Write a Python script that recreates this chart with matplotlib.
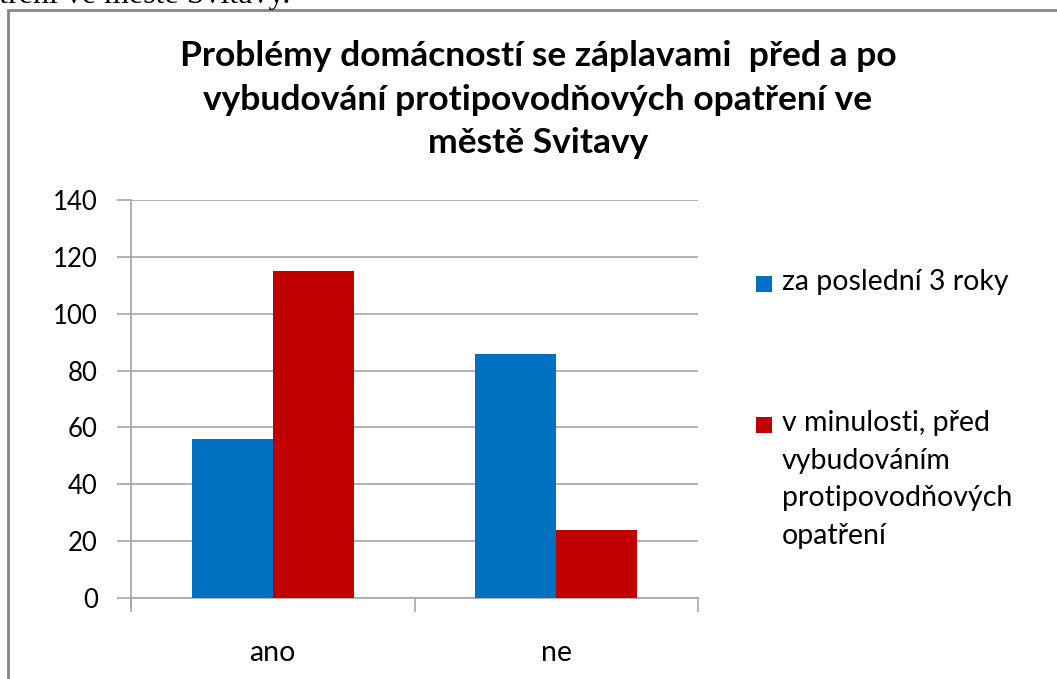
import matplotlib
matplotlib.use("Agg")
import matplotlib.pyplot as plt
from matplotlib.patches import Rectangle
import numpy as np

categories = ["ano", "ne"]
series_names = ["za poslední 3 roky",
                "v minulosti, před\nvybudováním\nprotipovodňových\nopatření"]
series_values = [[56, 86], [115, 24]]
series_colors = ["#0070C0", "#C00000"]
yticks = [0, 20, 40, 60, 80, 100, 120, 140]
title = "Problémy domácností se záplavami  před a po\nvybudování protipovodňových opatření ve\nměstě Svitavy"

FONT = "Lato"
W, H = 1057, 679
fig = plt.figure(figsize=(W / 100, H / 100), dpi=100)
fig.patch.set_facecolor("white")

def fx(px):
    return px / W

def fy(py):
    return 1 - py / H

# Outer chart frame (extends beyond the canvas on right and bottom)
fig.patches.append(Rectangle((fx(8), fy(700)), fx(1100) - fx(8), fy(10) - fy(700),
                             transform=fig.transFigure, fill=False,
                             edgecolor="#878787", linewidth=2))

# Cropped text from the surrounding document
fig.text(fx(290), fy(3.5), "opatření ve městě Svitavy.", ha="right", va="baseline",
         fontsize=23, family="Liberation Serif", color="black")

ax = fig.add_axes([fx(131), fy(598), fx(698) - fx(131), fy(200) - fy(598)])
n = len(series_values)
width = 1 / (n + 1.5)
x = np.arange(len(categories))
for i, (vals, col) in enumerate(zip(series_values, series_colors)):
    ax.bar(x + (i - (n - 1) / 2) * width, vals, width, color=col, zorder=3,
           linewidth=0)

ax.set_xlim(-0.5, len(categories) - 0.5)
ax.set_ylim(0, 140)
ax.set_yticks(yticks)
ax.set_yticklabels([str(v) for v in yticks], fontsize=18.5, family=FONT)
ax.yaxis.grid(True, color="#A6A6A6", linewidth=1.2, zorder=0)
ax.set_axisbelow(True)
for s in ["top", "right"]:
    ax.spines[s].set_visible(False)
for s in ["left", "bottom"]:
    ax.spines[s].set_color("#A6A6A6")
    ax.spines[s].set_linewidth(1.2)
ax.spines["left"].set_bounds(-140 * 10 / 398, 140)
ax.tick_params(axis="y", length=10, width=1.2, color="#A6A6A6", pad=14)
ax.set_xticks(np.arange(len(categories) + 1) - 0.5, minor=False)
ax.set_xticklabels([])
ax.set_xticks(x, minor=True)
ax.set_xticklabels(categories, minor=True, fontsize=20.5, family=FONT)
ax.tick_params(axis="x", which="minor", length=0, pad=30)
ax.tick_params(axis="x", which="major", length=10, width=1.2, color="#A6A6A6")
ax.spines["left"].set_clip_on(False)

fig.text(fx(538), fy(40), title, ha="center", va="top", fontsize=25.5,
         fontweight="bold", family=FONT, linespacing=1.45)

# Manual legend
leg_y = [284, 425]
for name, col, yy in zip(series_names, series_colors, leg_y):
    fig.patches.append(Rectangle((fx(756), fy(yy + 8)), fx(16), fy(yy - 8) - fy(yy + 8),
                                 transform=fig.transFigure, facecolor=col,
                                 edgecolor="none"))
    fig.text(fx(782), fy(yy - 15), name, ha="left", va="top", fontsize=20.5,
             family=FONT, linespacing=1.55)

fig.savefig("out.png", dpi=100)
